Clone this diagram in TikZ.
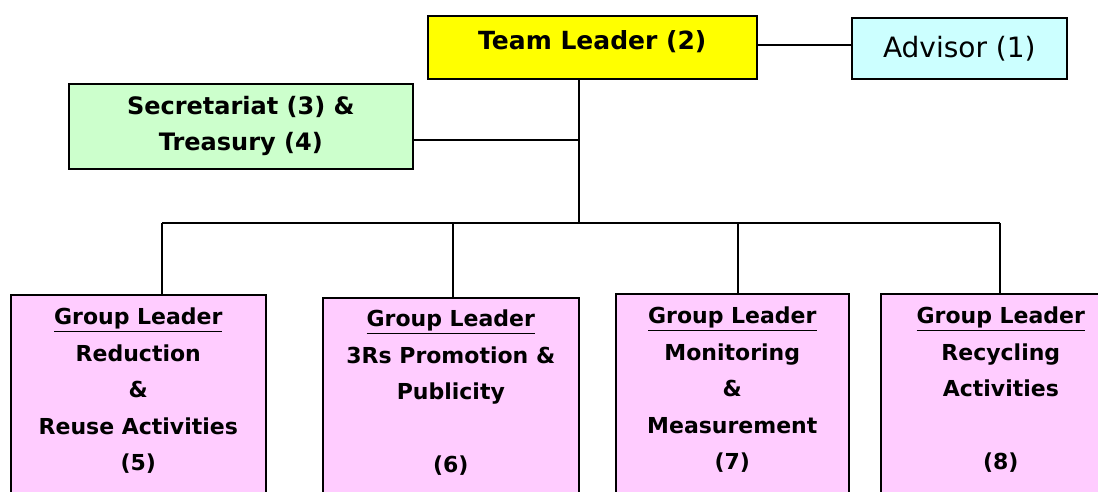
\documentclass[tikz,border=0pt]{standalone}
\usepackage{fontspec}
\setmainfont{DejaVu Sans}
\definecolor{tlyellow}{RGB}{255,255,0}
\definecolor{advcyan}{RGB}{204,255,255}
\definecolor{secgreen}{RGB}{204,255,204}
\definecolor{grppink}{RGB}{255,204,255}
\begin{document}
\begin{tikzpicture}[x=1pt,y=-1pt,
  box/.style={draw=black, line width=1.6pt, rectangle, inner sep=0pt, anchor=north west},
  gtext/.style={font=\fontsize{22}{36.5}\selectfont\bfseries, align=center, anchor=north, inner sep=0pt},
  wire/.style={draw=black, line width=1.4pt}]
\useasboundingbox (0,0) rectangle (1098,491);
\clip (0,0) rectangle (1098,491);
% top boxes
\node[box, fill=tlyellow, minimum width=329, minimum height=63, text depth=14pt, font=\fontsize{25}{30}\selectfont\bfseries] (tl) at (427,15) {Team Leader (2)};
\node[box, fill=advcyan, minimum width=215, minimum height=61, font=\fontsize{28}{32}\selectfont] (adv) at (851,17) {Advisor (1)};
\node[box, fill=secgreen, minimum width=344, minimum height=85, align=center, font=\fontsize{24}{36}\selectfont\bfseries] (sec) at (68,83) {Secretariat (3) \&\\Treasury (4)};
% group boxes
\node[box, fill=grppink, minimum width=255, minimum height=230] (g1) at (10,294) {};
\node[box, fill=grppink, minimum width=256, minimum height=230] (g2) at (322,297) {};
\node[box, fill=grppink, minimum width=233, minimum height=230] (g3) at (615,293) {};
\node[box, fill=grppink, minimum width=240, minimum height=230] (g4) at (880,293) {};
\node[gtext] (t1) at ([yshift=-14]g1.north) {\underline{Group Leader}\\Reduction\\\&\\Reuse Activities\\(5)};
\node[gtext] (t2) at ([yshift=-13]g2.north) {\underline{Group Leader}\\3Rs Promotion \&\\Publicity\\\strut\\(6)};
\node[gtext] (t3) at ([yshift=-14]g3.north) {\underline{Group Leader}\\Monitoring\\\&\\Measurement\\(7)};
\node[gtext] (t4) at ([yshift=-14]g4.north) {\underline{Group Leader}\\Recycling\\Activities\\\strut\\(8)};
% connectors
\coordinate (hub) at (579,223);
\coordinate (secj) at (579,140);
\coordinate (b1) at (162,223);
\coordinate (b2) at (453,223);
\coordinate (b3) at (738,223);
\coordinate (b4) at (1000,223);
\draw[wire] (tl.east |- 0,45) -- (adv.west |- 0,45);
\draw[wire] (tl.south -| hub) -- (hub);
\draw[wire] (sec.east |- secj) -- (secj);
\draw[wire] (b1) -- (b4);
\draw[wire] (b1) -- (b1 |- g1.north);
\draw[wire] (b2) -- (b2 |- g2.north);
\draw[wire] (b3) -- (b3 |- g3.north);
\draw[wire] (b4) -- (b4 |- g4.north);
\end{tikzpicture}
\end{document}
